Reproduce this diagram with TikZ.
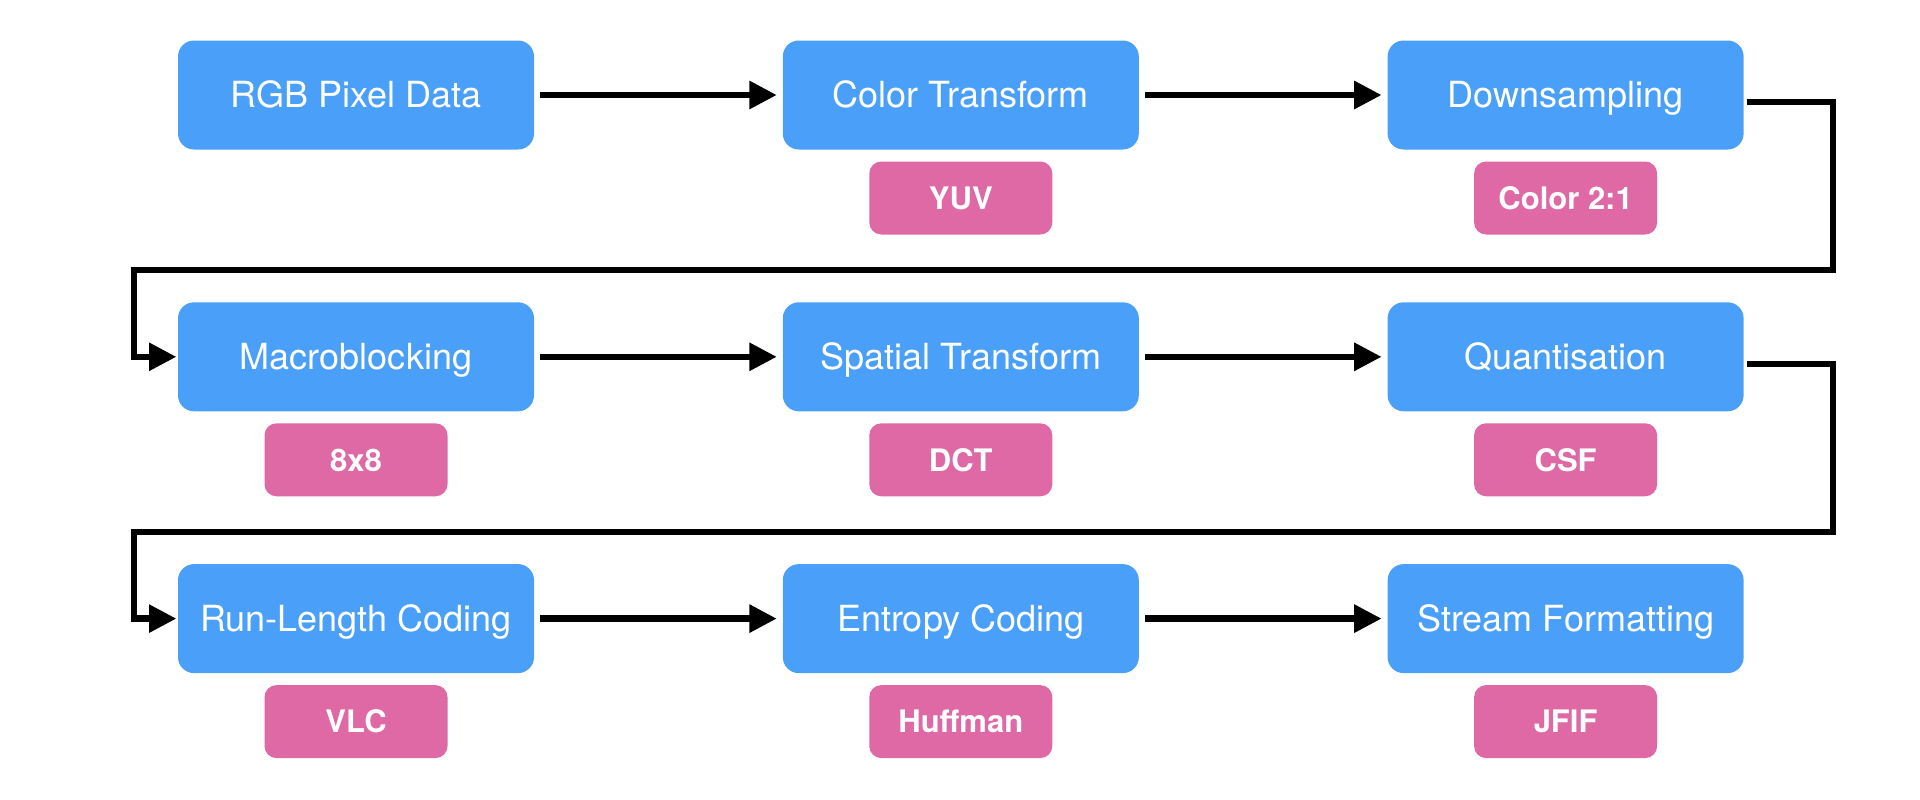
\documentclass[tikz,border=0pt]{standalone}
\usepackage{fontspec}
\setmainfont{TeX Gyre Heros}
\usetikzlibrary{positioning,arrows.meta}
\definecolor{stageblue}{RGB}{74,160,248}
\definecolor{tagpink}{RGB}{222,105,165}
\tikzset{
  stage/.style={fill=stageblue, text=white, rounded corners=8pt, inner sep=0pt,
    minimum width=178pt, minimum height=54.5pt, text height=12.9pt, text depth=0pt,
    font=\fontsize{18}{20}\selectfont},
  tag/.style={fill=tagpink, text=white, rounded corners=6pt, inner sep=0pt,
    minimum width=91.5pt, minimum height=36.5pt, text height=11.2pt, text depth=0pt,
    font=\bfseries\fontsize{15.5}{17}\selectfont},
  flow/.style={line width=3.2pt, -{Triangle[length=13.7pt,width=13.4pt]}},
}
\begin{document}
\begin{tikzpicture}
  \useasboundingbox (0,0) rectangle (960pt,-399.5pt);

  \node[stage] (rgb) at (178pt,-47.5pt) {RGB Pixel Data};
  \node[stage, right=124pt of rgb] (ctrans) {Color Transform};
  \node[stage, right=124pt of ctrans] (down) {Downsampling};

  \node[stage, below=76pt of rgb] (macro) {Macroblocking};
  \node[stage, right=124pt of macro] (spatial) {Spatial Transform};
  \node[stage, right=124pt of spatial] (quant) {Quantisation};

  \node[stage, below=76pt of macro] (rlc) {Run-Length Coding};
  \node[stage, right=124pt of rlc] (entropy) {Entropy Coding};
  \node[stage, right=124pt of entropy] (stream) {Stream Formatting};

  \node[tag, below=5.6pt of ctrans] (yuv) {YUV};
  \node[tag, below=5.6pt of down] (c21) {Color 2:1};
  \node[tag, below=5.6pt of macro] (blk) {8x8};
  \node[tag, below=5.6pt of spatial] (dct) {DCT};
  \node[tag, below=5.6pt of quant] (csf) {CSF};
  \node[tag, below=5.6pt of rlc] (vlc) {VLC};
  \node[tag, below=5.6pt of entropy] (huff) {Huffman};
  \node[tag, below=5.6pt of stream] (jfif) {JFIF};

  \draw[flow, shorten <=2.8pt, shorten >=2.8pt] (rgb) -- (ctrans);
  \draw[flow, shorten <=2.8pt, shorten >=2.8pt] (ctrans) -- (down);
  \draw[flow, shorten <=2.8pt, shorten >=2.8pt] (macro) -- (spatial);
  \draw[flow, shorten <=2.8pt, shorten >=2.8pt] (spatial) -- (quant);
  \draw[flow, shorten <=2.8pt, shorten >=2.8pt] (rlc) -- (entropy);
  \draw[flow, shorten <=2.8pt, shorten >=2.8pt] (entropy) -- (stream);

  \draw[flow, shorten >=0.6pt] ([xshift=1.6pt,yshift=-3.5pt]down.east) -- ++(43pt,0)
    -- ++(0,-84pt) -| ([xshift=-21.75pt]macro.west) -- (macro.west);
  \draw[flow, shorten >=0.6pt] ([xshift=1.6pt,yshift=-3.5pt]quant.east) -- ++(43pt,0)
    -- ++(0,-84pt) -| ([xshift=-21.75pt]rlc.west) -- (rlc.west);
\end{tikzpicture}
\end{document}
